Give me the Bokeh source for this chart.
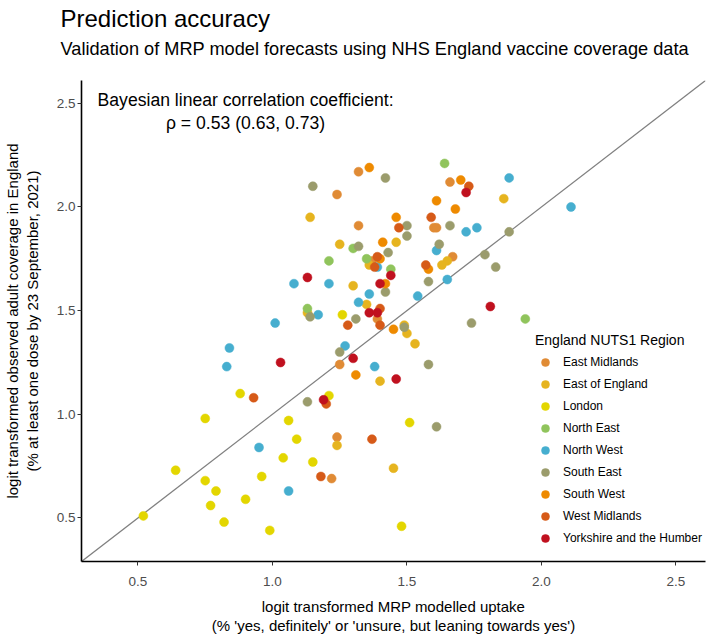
from bokeh.plotting import figure
from bokeh.models import Range1d, Title, Legend, LegendItem, Slope, FixedTicker, NumeralTickFormatter
from bokeh.core.properties import value
from bokeh.embed import file_html
from bokeh.resources import INLINE

FONT = "Liberation Sans"

regions = ["East Midlands", "East of England", "London", "North East", "North West",
           "South East", "South West", "West Midlands", "Yorkshire and the Humber"]
colors = ["#E08B35", "#E6B41F", "#E3D600", "#90C45C", "#46AECF",
          "#9B9C6C", "#EE8A00", "#D65A18", "#C0111F"]

x_east_midlands = [1.25, 1.24, 1.22, 1.32, 1.66, 1.24, 1.32, 1.60, 1.61, 1.67, 1.37, 1.39]
y_east_midlands = [1.24, 0.89, 0.69, 2.17, 2.12, 2.06, 1.91, 1.90, 1.90, 1.76, 1.74, 1.46]

x_east_of_england = [1.14, 1.86, 1.25, 1.46, 1.65, 1.63, 1.36, 1.30, 1.35, 1.13, 1.49, 1.50, 1.53, 1.40, 1.24, 1.45]
y_east_of_england = [1.95, 2.04, 1.82, 1.83, 1.74, 1.72, 1.72, 1.62, 1.53, 1.49, 1.43, 1.39, 1.34, 1.16, 0.85, 0.74]

x_london = [0.88, 0.75, 1.06, 1.09, 1.04, 1.15, 0.64, 0.75, 0.79, 0.96, 0.90, 0.77, 0.52, 0.82, 0.99, 1.26, 1.21, 1.51, 1.48]
y_london = [1.10, 0.98, 0.97, 0.88, 0.79, 0.77, 0.73, 0.68, 0.63, 0.70, 0.59, 0.56, 0.51, 0.48, 0.44, 1.48, 1.09, 0.96, 0.46]

x_north_east = [1.64, 1.30, 1.21, 1.35, 1.44, 1.13, 1.94]
y_north_east = [2.21, 1.80, 1.74, 1.75, 1.70, 1.51, 1.46]

x_north_west = [1.88, 2.11, 1.08, 1.17, 1.01, 0.84, 0.83, 0.95, 1.06, 1.72, 1.76, 1.61, 1.39, 1.21, 1.65, 1.36, 1.54, 1.32, 1.27, 1.38]
y_north_west = [2.14, 2.00, 1.63, 1.48, 1.44, 1.32, 1.23, 0.84, 0.63, 1.88, 1.90, 1.79, 1.71, 1.63, 1.65, 1.58, 1.57, 1.54, 1.33, 1.23]

x_south_east = [1.15, 1.14, 1.13, 1.42, 1.50, 1.50, 1.66, 1.88, 1.32, 1.62, 1.79, 1.83, 1.43, 1.58, 1.42, 1.31, 1.49, 1.74, 1.25, 1.58, 1.61]
y_south_east = [2.10, 1.47, 1.06, 2.14, 1.91, 1.86, 1.91, 1.88, 1.81, 1.82, 1.77, 1.71, 1.78, 1.64, 1.59, 1.46, 1.42, 1.44, 1.30, 1.24, 0.94]

x_south_west = [1.36, 1.70, 1.61, 1.68, 1.46, 1.41, 1.40, 1.58, 1.42, 1.45, 1.31]
y_south_west = [2.19, 2.13, 2.03, 1.99, 1.95, 1.83, 1.75, 1.70, 1.63, 1.41, 1.19]

x_west_midlands = [0.93, 1.73, 1.59, 1.47, 1.39, 1.38, 1.57, 1.40, 1.28, 1.40, 1.20, 1.37, 1.18]
y_west_midlands = [1.08, 2.10, 1.95, 1.90, 1.76, 1.71, 1.72, 1.51, 1.43, 1.43, 1.05, 0.88, 0.70]

x_yorkshire = [1.13, 1.03, 1.72, 1.44, 1.40, 1.81, 1.36, 1.39, 1.30, 1.46, 1.19]
y_yorkshire = [1.66, 1.25, 2.07, 1.67, 1.63, 1.52, 1.49, 1.49, 1.27, 1.17, 1.07]

xs = [x_east_midlands, x_east_of_england, x_london, x_north_east, x_north_west,
      x_south_east, x_south_west, x_west_midlands, x_yorkshire]
ys = [y_east_midlands, y_east_of_england, y_london, y_north_east, y_north_west,
      y_south_east, y_south_west, y_west_midlands, y_yorkshire]

tick_values = [0.5, 1.0, 1.5, 2.0, 2.5]
axis_limits = (0.29, 2.61)

annotation_text = "Bayesian linear correlation coefficient:\n\u03c1 = 0.53 (0.63, 0.73)"
annotation_x = 0.9
annotation_y = 2.46

p = figure(width=707, height=637, x_range=Range1d(*axis_limits), y_range=Range1d(*axis_limits),
           output_backend="svg", toolbar_location=None, title=None,
           min_border_left=81, min_border_right=2, min_border_top=80, min_border_bottom=0)

p.background_fill_color = "white"
p.border_fill_color = "white"
p.outline_line_color = None
p.xgrid.visible = False
p.ygrid.visible = False

# titles (first added is nearest to the plot)
sub = Title(text="Validation of MRP model forecasts using NHS England vaccine coverage data",
            text_font=FONT, text_font_size="18.2px", text_font_style="normal",
            text_color="black", align="left", offset=-21, standoff=43)
p.add_layout(sub, "above")
main = Title(text="Prediction accuracy", text_font=FONT, text_font_size="24px",
             text_font_style="normal", text_color="black", align="left", offset=-21, standoff=-33)
p.add_layout(main, "above")

# identity line
diag = Slope(gradient=1, y_intercept=0, line_color="#808080", line_width=1.3, level="underlay")
p.add_layout(diag)

items = []
for region, color, xv, yv in zip(regions, colors, xs, ys):
    r = p.scatter(xv, yv, size=9, fill_color=color, line_color=color, line_width=0.5)
    items.append(LegendItem(label=region, renderers=[r]))

p.text(x=[annotation_x], y=[annotation_y], text=[annotation_text], text_align="center",
       text_baseline="middle", text_font=value(FONT), text_font_size="17.6px",
       text_line_height=1.15, text_color="black")

legend = Legend(items=items, location=(454, 13), title="England NUTS1 Region",
                title_text_font=FONT, title_text_font_size="14px", title_text_font_style="normal",
                title_text_color="black", label_text_font=FONT, label_text_font_size="12px",
                label_text_color="black", padding=4, spacing=2, label_standoff=8,
                glyph_width=20, glyph_height=20, label_height=20, title_standoff=4,
                border_line_color=None, background_fill_alpha=0, margin=0)
p.add_layout(legend)

for ax in (p.xaxis[0], p.yaxis[0]):
    ax.ticker = FixedTicker(ticks=tick_values)
    ax.formatter = NumeralTickFormatter(format="0.0")
    ax.axis_line_color = "black"
    ax.axis_line_width = 1.6
    ax.major_tick_line_color = "#333333"
    ax.major_tick_line_width = 1
    ax.major_tick_out = 4
    ax.major_tick_in = 0
    ax.minor_tick_line_color = None
    ax.major_label_text_font = FONT
    ax.major_label_text_font_size = "13.5px"
    ax.major_label_text_color = "#4D4D4D"
    ax.major_label_text_line_height = 1.0
    ax.axis_label_text_font = FONT
    ax.axis_label_text_font_size = "15px"
    ax.axis_label_text_font_style = "normal"
    ax.axis_label_text_color = "black"
    ax.axis_label_text_line_height = 1.15

p.xaxis[0].axis_label = "logit transformed MRP modelled uptake\n(% 'yes, definitely' or 'unsure, but leaning towards yes')"
p.yaxis[0].axis_label = "logit transformed observed adult coverage in England\n(% at least one dose by 23 September, 2021)"
p.xaxis[0].major_label_standoff = 11
p.yaxis[0].major_label_standoff = 2
p.xaxis[0].axis_label_standoff = 9
p.yaxis[0].axis_label_standoff = 13

open("out.html", "w").write(file_html(p, INLINE))
